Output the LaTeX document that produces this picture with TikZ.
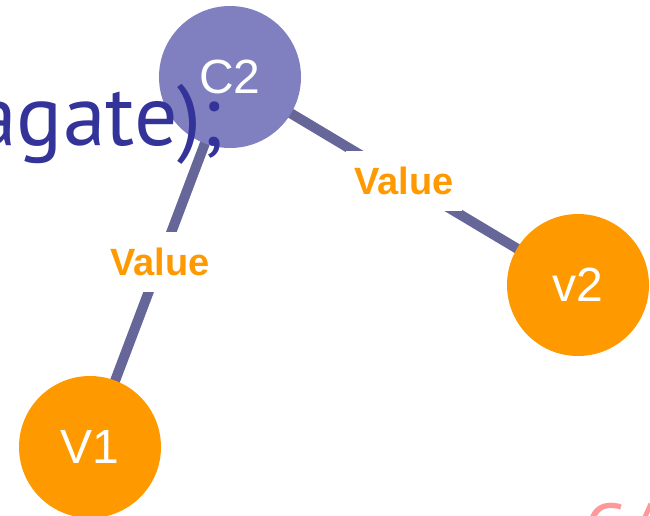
\documentclass[tikz,border=0pt]{standalone}
\usepackage{fontspec}
\usetikzlibrary{calc}
\setmainfont{Liberation Sans}
\newfontfamily\codefont{PT Sans}
\definecolor{linecol}{RGB}{102,102,153}
\definecolor{c2col}{RGB}{128,128,192}
\definecolor{orangecol}{RGB}{255,153,0}
\definecolor{codecol}{RGB}{51,51,153}
\definecolor{pinkcol}{RGB}{255,153,153}
\begin{document}
\begin{tikzpicture}[x=1pt,y=-1pt,
  vnode/.style={circle,minimum size=142pt,inner sep=0pt,text=white,font=\fontsize{48}{48}\selectfont},
  edge/.style={draw=linecol,line width=10pt},
  vallabel/.style={fill=white,text=orangecol,font=\fontsize{38}{38}\selectfont\bfseries,inner xsep=8pt,inner ysep=16pt}]
\useasboundingbox (0,0) rectangle (650,515);
\clip (0,0) rectangle (650,515);
\coordinate (c2c) at (230,77);
\coordinate (v1c) at (90,447);
\coordinate (v2c) at (578,285);
\draw[edge] (c2c) -- (v1c);
\draw[edge] (c2c) -- (v2c);
\node[vnode,fill=c2col] (c2) at (c2c) {C2};
\node[vnode,fill=orangecol] (v1) at (v1c) {V1};
\node[vnode,fill=orangecol] (v2) at (v2c) {v2};
\node[vallabel] (l1) at ($(c2c)!0.5!(v1c)$) {Value};
\node[vallabel] (l2) at ($(c2c)!0.5!(v2c)$) {Value};
\node[anchor=base east,inner sep=0pt,text=codecol,font=\codefont\fontsize{86}{86}\selectfont] (code) at (224,145) {agate);};
\node[anchor=base west,inner sep=0pt,text=pinkcol,font=\codefont\fontsize{72}{72}\selectfont] (pink) at (584,554) {C/};
\end{tikzpicture}
\end{document}
